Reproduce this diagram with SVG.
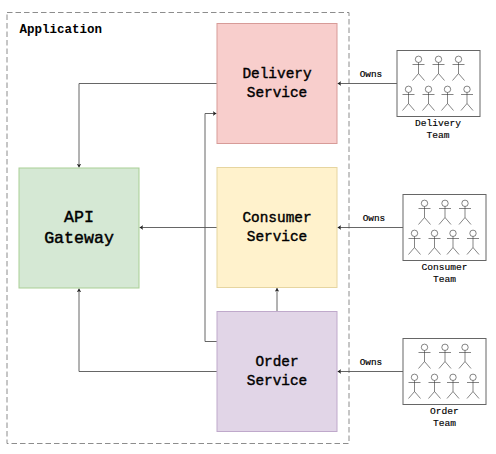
<svg xmlns="http://www.w3.org/2000/svg" width="496" height="454" viewBox="0 0 496 454">
<style>
text{font-family:"Liberation Mono","Courier New",monospace;fill:#000;text-anchor:middle}
.svc{font-size:14.4px;stroke:#000;stroke-width:.4}
.api{font-size:16.6px;stroke:#000;stroke-width:.45}
.small{font-size:9.6px;stroke:#000;stroke-width:.15}
.own{font-size:9.4px;stroke:#000;stroke-width:.2}
.lane{font-size:12.5px;font-weight:bold;text-anchor:start}
.box{stroke-width:1}
.conn{fill:none;stroke:#555;stroke-width:.9}
.team{fill:#fff;stroke:#666;stroke-width:1}
.act{fill:none;stroke:#333;stroke-width:.6}
</style>
<defs>
<marker id="arr" markerUnits="userSpaceOnUse" markerWidth="4.6" markerHeight="4.6" refX="4" refY="2.5" orient="auto" viewBox="0 0 5 5"><path d="M0 0L4 2.5L0 5L1 2.5Z" fill="#222"/></marker>
<g id="actor" class="act"><circle cx="0" cy="3.3" r="3.2"/><path d="M-6 8.5H6M0 6.5V17.5M0 17.5L-6 24.5M0 17.5L6 24.5"/></g>
</defs>
<rect id="boundary" x="7" y="12.5" width="342" height="431" fill="none" stroke="#808080" stroke-width=".9" stroke-dasharray="5.5 3"/>
<text class="lane" x="19.5" y="33">Application</text>
<g id="connectors" class="conn">
<path marker-end="url(#arr)" d="M217 83.5H79V167.5"/>
<path marker-end="url(#arr)" d="M217 341.5H205V113.5H216.5"/>
<path marker-end="url(#arr)" d="M217 227.5H139.5"/>
<path marker-end="url(#arr)" d="M277 311.5V288"/>
<path marker-end="url(#arr)" d="M217 371.5H79V288.5"/>
<path marker-end="url(#arr)" d="M397 83.5H337.5"/>
<path marker-end="url(#arr)" d="M403 227.5H337.5"/>
<path marker-end="url(#arr)" d="M403 371.5H337.5"/>
</g>
<g id="api-gateway"><rect class="box" x="19" y="168" width="120" height="120" fill="#d5e8d4" stroke="#a9cf95"/><text class="api" x="79" y="222">API</text><text class="api" x="79" y="242.5">Gateway</text></g>
<g id="delivery-service"><rect class="box" x="217" y="23.5" width="120" height="120" fill="#f8cecc" stroke="#d79b98"/><text class="svc" x="277" y="78">Delivery</text><text class="svc" x="277" y="96.5">Service</text></g>
<g id="consumer-service"><rect class="box" x="217" y="167.5" width="120" height="120" fill="#fff2cc" stroke="#e6d5a0"/><text class="svc" x="277" y="222">Consumer</text><text class="svc" x="277" y="240.5">Service</text></g>
<g id="order-service"><rect class="box" x="217" y="311.5" width="120" height="120" fill="#e1d5e7" stroke="#bfa9cb"/><text class="svc" x="277" y="366">Order</text><text class="svc" x="277" y="384.5">Service</text></g>
<text class="own" x="371" y="77">Owns</text>
<text class="own" x="374" y="221">Owns</text>
<text class="own" x="371" y="365">Owns</text>
<g id="delivery-team"><rect class="team" x="397" y="50.5" width="83" height="66"/>
<use href="#actor" x="418.5" y="56"/><use href="#actor" x="438.5" y="56"/><use href="#actor" x="458.5" y="56"/>
<use href="#actor" x="408.5" y="86"/><use href="#actor" x="428.5" y="86"/><use href="#actor" x="447.5" y="86"/><use href="#actor" x="467" y="86"/>
<text class="small" x="438" y="126">Delivery</text><text class="small" x="438" y="138">Team</text></g>
<g id="consumer-team"><rect class="team" x="403" y="194.5" width="83" height="66"/>
<use href="#actor" x="424.5" y="200"/><use href="#actor" x="445" y="200"/><use href="#actor" x="465" y="200"/>
<use href="#actor" x="414.5" y="230"/><use href="#actor" x="434.5" y="230"/><use href="#actor" x="453" y="230"/><use href="#actor" x="473" y="230"/>
<text class="small" x="444.5" y="270">Consumer</text><text class="small" x="444.5" y="282">Team</text></g>
<g id="order-team"><rect class="team" x="403" y="338.5" width="83" height="66"/>
<use href="#actor" x="424.5" y="344"/><use href="#actor" x="445" y="344"/><use href="#actor" x="465" y="344"/>
<use href="#actor" x="414.5" y="374"/><use href="#actor" x="434.5" y="374"/><use href="#actor" x="453" y="374"/><use href="#actor" x="473" y="374"/>
<text class="small" x="444.5" y="414">Order</text><text class="small" x="444.5" y="426">Team</text></g>
</svg>
